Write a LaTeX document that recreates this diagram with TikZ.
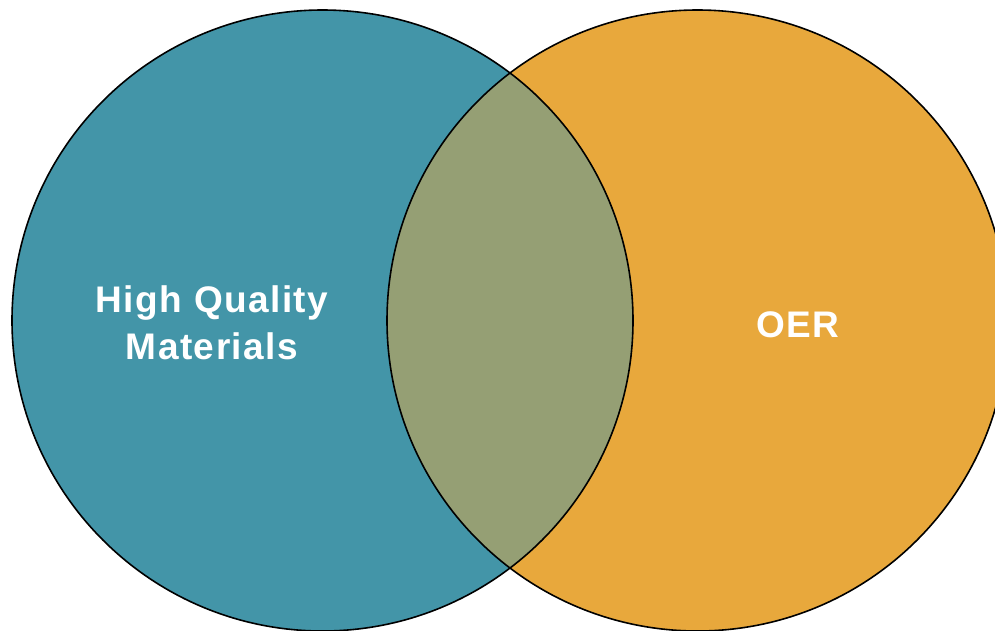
\documentclass[tikz,border=0pt]{standalone}
\usepackage{fontspec}
\setmainfont{Liberation Sans}
\newfontfamily\labelfont[LetterSpace=4]{Liberation Sans}
\definecolor{teal}{RGB}{67,149,168}
\definecolor{gold}{RGB}{232,168,60}
\definecolor{lens}{RGB}{149,159,116}
\begin{document}
\begin{tikzpicture}[x=1pt,y=-1pt,
  setcircle/.style={circle,inner sep=0pt,minimum size=621pt},
  label/.style={text=white,font=\labelfont\fontsize{37}{47}\selectfont\bfseries,align=center}]
\useasboundingbox (0,0) rectangle (995,630);
\node[setcircle,fill=teal] (hq) at (322.5,320.5) {};
\node[setcircle,fill=gold] (oer) at (697.5,320.5) {};
\begin{scope}
  \clip (322.5,320.5) circle (310.5pt);
  \fill[lens] (697.5,320.5) circle (310.5pt);
\end{scope}
\draw[line width=1.6pt] (322.5,320.5) circle (310.5pt);
\draw[line width=1.6pt] (697.5,320.5) circle (310.5pt);
\node[label] (hqt) at (212,323) {High Quality\\Materials};
\node[label] (oert) at (798,325) {OER};
\end{tikzpicture}
\end{document}
